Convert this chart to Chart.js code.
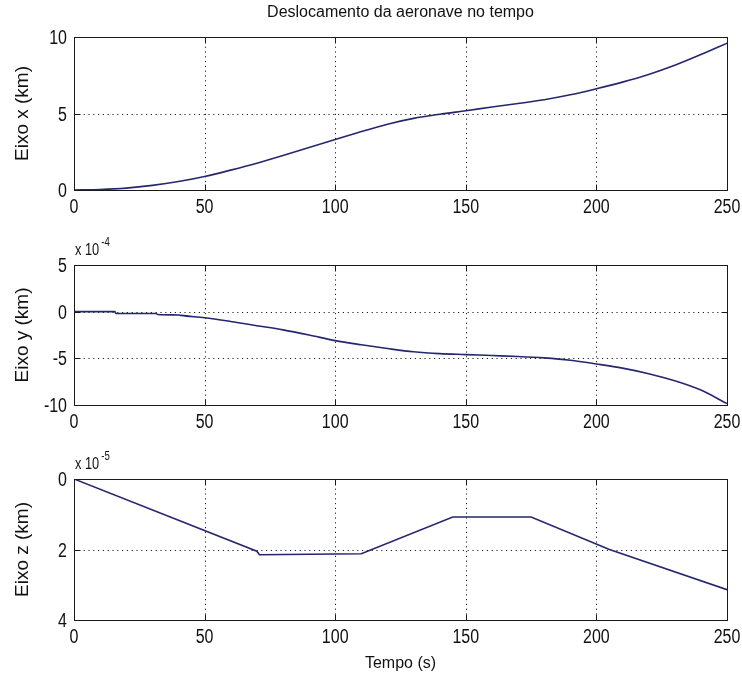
<!DOCTYPE html>
<html>
<head>
<meta charset="utf-8">
<script src="https://cdn.jsdelivr.net/npm/chart.js@4.4.1/dist/chart.umd.min.js"></script>
<style>
  html, body { margin: 0; padding: 0; background: #ffffff; }
  #wrap { position: relative; width: 742px; height: 674px; background: #ffffff; }
  canvas { position: absolute; left: 0; }
</style>
</head>
<body>
<div id="wrap">
  <canvas id="cx" width="742" height="220" style="top:0px;width:742px;height:220px"></canvas>
  <canvas id="cy" width="742" height="220" style="top:220px;width:742px;height:220px"></canvas>
  <canvas id="cz" width="742" height="234" style="top:440px;width:742px;height:234px"></canvas>
</div>
<script>
// Time axis ticks (s)
const timeTicks = [0, 50, 100, 150, 200, 250];

// Eixo x (km)
const tempoX = [0, 10, 20, 30, 40, 50, 60, 70, 80, 90, 100, 110, 120, 130, 140, 150, 160, 170, 180, 190, 200, 210, 220, 230, 240, 250];
const eixoX  = [0, 0.03, 0.12, 0.3, 0.55, 0.88, 1.3, 1.75, 2.25, 2.78, 3.3, 3.82, 4.3, 4.68, 4.95, 5.18, 5.42, 5.65, 5.9, 6.22, 6.62, 7.05, 7.55, 8.15, 8.85, 9.6];

// Eixo y (x 10^-4 km)
const tempoY = [0, 15.7, 16, 31.5, 32, 40, 41, 50, 60, 70, 80, 90, 100, 110, 120, 130, 140, 150, 160, 170, 180, 190, 200, 210, 220, 230, 240, 250];
const eixoY  = [0, 0, -0.2, -0.2, -0.3, -0.35, -0.4, -0.65, -1.05, -1.5, -1.95, -2.5, -3.1, -3.55, -3.95, -4.3, -4.5, -4.6, -4.7, -4.8, -4.95, -5.2, -5.6, -6.05, -6.65, -7.4, -8.4, -9.85];

// Eixo z (x 10^-5 km)
const tempoZ = [0, 70, 71, 110, 145, 175, 205, 250];
const eixoZ  = [0, 2.05, 2.15, 2.12, 1.08, 1.08, 2.0, 3.14];

const yTicksX = [0, 5, 10];
const yTicksY = [-10, -5, 0, 5];
const yTicksZ = [0, 2, 4];

const LINE_COLOR = '#26266f';
const TEXT_COLOR = '#111111';
const SANS = "'Liberation Sans', Arial, sans-serif";

function pairs(xs, ys) { return xs.map((t, i) => ({ x: t, y: ys[i] })); }

// Narrow tick numerals: regular sans squeezed horizontally
function narrowText(ctx, text, x, y, align) {
  ctx.save();
  ctx.translate(x, y);
  ctx.scale(0.8, 1);
  ctx.textAlign = align;
  ctx.fillText(text, 0, 0);
  ctx.restore();
}

// MATLAB-style frame: dotted grid, boxed axes, inward tick marks, tick numerals, exponent note
const axesFrame = {
  id: 'axesFrame',
  beforeDatasetsDraw(chart) {
    const { ctx, chartArea: a, scales: { x, y } } = chart;
    ctx.save();
    ctx.strokeStyle = '#222';
    ctx.lineWidth = 1;
    ctx.setLineDash([1.2, 3.6]);
    x.ticks.forEach(t => {
      const px = Math.round(x.getPixelForValue(t.value)) + 0.5;
      if (px > a.left + 2 && px < a.right - 2) {
        ctx.beginPath(); ctx.moveTo(px, a.top); ctx.lineTo(px, a.bottom); ctx.stroke();
      }
    });
    y.ticks.forEach(t => {
      const py = Math.round(y.getPixelForValue(t.value)) + 0.5;
      if (py > a.top + 2 && py < a.bottom - 2) {
        ctx.beginPath(); ctx.moveTo(a.left, py); ctx.lineTo(a.right, py); ctx.stroke();
      }
    });
    ctx.restore();
  },
  afterDatasetsDraw(chart, args, opts) {
    const { ctx, chartArea: a, scales: { x, y } } = chart;
    const L = Math.round(a.left) + 0.5, R = Math.round(a.right) + 0.5;
    const T = Math.round(a.top) + 0.5, B = Math.round(a.bottom) + 0.5;
    const tl = 6;
    ctx.save();
    ctx.strokeStyle = '#1a1a1a';
    ctx.lineWidth = 1;
    ctx.strokeRect(L, T, R - L, B - T);
    ctx.beginPath();
    x.ticks.forEach(t => {
      const px = Math.round(x.getPixelForValue(t.value)) + 0.5;
      ctx.moveTo(px, B); ctx.lineTo(px, B - tl);
      ctx.moveTo(px, T); ctx.lineTo(px, T + tl);
    });
    y.ticks.forEach(t => {
      const py = Math.round(y.getPixelForValue(t.value)) + 0.5;
      ctx.moveTo(L, py); ctx.lineTo(L + tl, py);
      ctx.moveTo(R, py); ctx.lineTo(R - tl, py);
    });
    ctx.stroke();

    // tick numerals
    ctx.fillStyle = TEXT_COLOR;
    ctx.textBaseline = 'alphabetic';
    ctx.font = '20px ' + SANS;
    x.ticks.forEach(t => narrowText(ctx, String(t.value), x.getPixelForValue(t.value), a.bottom + 23, 'center'));
    y.ticks.forEach(t => narrowText(ctx, String(t.value), a.left - 7, y.getPixelForValue(t.value) + 7, 'right'));

    if (opts && opts.exponent) {
      ctx.textAlign = 'left';
      ctx.font = '16px ' + SANS;
      narrowText(ctx, 'x 10', a.left + 1, a.top - 10, 'left');
      const w = ctx.measureText('x 10').width * 0.8;
      ctx.font = '12px ' + SANS;
      narrowText(ctx, opts.exponent, a.left + 3 + w, a.top - 19, 'left');
    }
    ctx.restore();
  }
};

function makeChart(id, cfg) {
  const xScale = {
    type: 'linear', min: 0, max: 250,
    grid: { display: false, drawTicks: false },
    border: { display: false },
    afterBuildTicks: s => { s.ticks = timeTicks.map(v => ({ value: v })); },
    ticks: { display: false },
    title: cfg.xTitle ? { display: true, text: cfg.xTitle, color: TEXT_COLOR,
      font: { family: SANS, size: 16 }, padding: { top: 0, bottom: 1 } } : { display: false },
    afterFit: s => { s.height = cfg.xHeight; s.paddingLeft = 0; s.paddingRight = 0; }
  };
  const yScale = {
    type: 'linear', min: cfg.yMin, max: cfg.yMax, reverse: !!cfg.reverse,
    grid: { display: false, drawTicks: false },
    border: { display: false },
    afterBuildTicks: s => { s.ticks = cfg.yTicks.map(v => ({ value: v })); },
    ticks: { display: false },
    title: { display: true, text: cfg.yTitle, color: TEXT_COLOR, font: { family: SANS, size: 19 }, padding: { top: 11, bottom: 0 } },
    afterFit: s => { s.width = 74; s.paddingTop = 0; s.paddingBottom = 0; }
  };
  return new Chart(document.getElementById(id), {
    type: 'line',
    data: { datasets: [{ data: cfg.data, borderColor: LINE_COLOR, borderWidth: 1.6, pointRadius: 0,
      tension: cfg.tension || 0, cubicInterpolationMode: cfg.monotone ? 'monotone' : 'default', fill: false }] },
    options: {
      responsive: false, animation: false, devicePixelRatio: 1,
      layout: { padding: { left: 0, right: 15, top: cfg.padTop, bottom: cfg.padBottom } },
      scales: { x: xScale, y: yScale },
      plugins: {
        legend: { display: false }, tooltip: { enabled: false },
        title: cfg.title ? { display: true, text: cfg.title, color: TEXT_COLOR, fullSize: false,
          font: { family: SANS, size: 16, weight: 'normal' }, padding: { top: 3, bottom: 14.8 } } : { display: false },
        axesFrame: { exponent: cfg.exponent || null }
      }
    },
    plugins: [axesFrame]
  });
}

makeChart('cx', {
  data: pairs(tempoX, eixoX), tension: 0.3,
  yMin: 0, yMax: 10, yTicks: yTicksX, yTitle: 'Eixo x (km)',
  title: 'Deslocamento da aeronave no tempo',
  padTop: 0, padBottom: 0, xHeight: 30
});
makeChart('cy', {
  data: pairs(tempoY, eixoY), monotone: true,
  yMin: -10, yMax: 5, yTicks: yTicksY, yTitle: 'Eixo y (km)', exponent: '-4',
  padTop: 45, padBottom: 5, xHeight: 30
});
makeChart('cz', {
  data: pairs(tempoZ, eixoZ), tension: 0,
  yMin: 0, yMax: 4, yTicks: yTicksZ, yTitle: 'Eixo z (km)', reverse: true, exponent: '-5',
  padTop: 39, padBottom: 0, xHeight: 54, xTitle: 'Tempo (s)'
});
</script>
</body>
</html>
